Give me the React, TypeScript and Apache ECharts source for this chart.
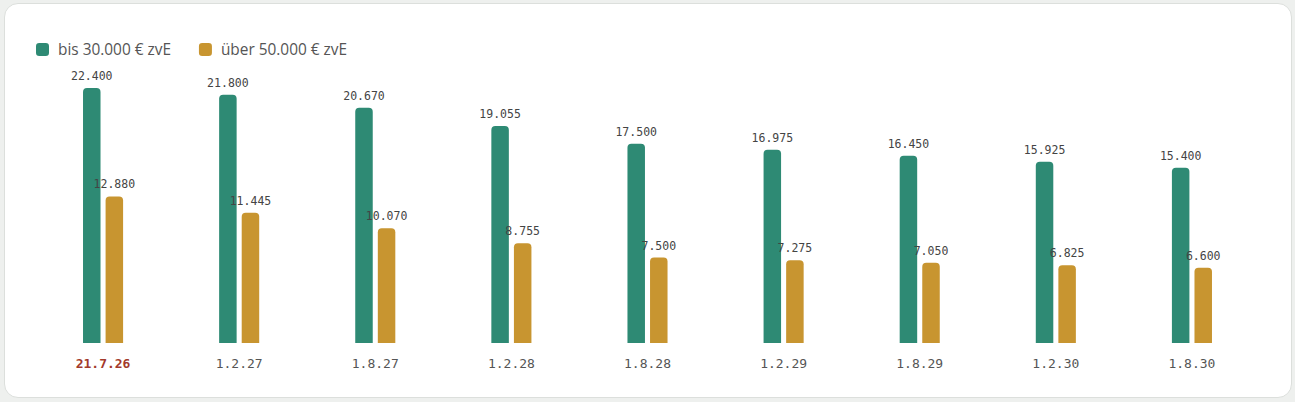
import React, { useEffect, useRef } from "react";
import * as echarts from "echarts";

const categories = ["21.7.26", "1.2.27", "1.8.27", "1.2.28", "1.8.28", "1.2.29", "1.8.29", "1.2.30", "1.8.30"];
const seriesNames = ["bis 30.000 € zvE", "über 50.000 € zvE"];
const lowIncome = [22400, 21800, 20670, 19055, 17500, 16975, 16450, 15925, 15400];
const highIncome = [12880, 11445, 10070, 8755, 7500, 7275, 7050, 6825, 6600];

function fmt(v: number): string {
  const s = String(Math.round(v));
  return s.replace(/\B(?=(\d{3})+(?!\d))/g, ".");
}

export default function App() {
  const ref = useRef<HTMLDivElement>(null);
  useEffect(() => {
    document.body.style.margin = "0";
    const chart = echarts.init(ref.current!, null, { renderer: "svg" });
    const labelStyle = {
      show: true,
      position: "top" as const,
      distance: 6,
      formatter: (p: any) => fmt(p.value),
      fontFamily: "DejaVu Sans Mono",
      fontSize: 11.5,
      color: "#444",
    };
    chart.setOption({
      animation: false,
      legend: {
        left: 36,
        top: 42,
        padding: 0,
        itemWidth: 13,
        itemHeight: 13,
        itemGap: 28,
        icon: "roundRect",
        textStyle: {
          fontFamily: "Open Sans",
          fontSize: 15.4,
          color: "#555",
          padding: [0, 0, 0, 4],
        },
        data: seriesNames,
      },
      grid: { left: 35, right: 35, top: 88, bottom: 59 },
      xAxis: {
        type: "category",
        data: categories.map((c, i) =>
          i === 0
            ? { value: c, textStyle: { color: "#a33a2b", fontWeight: "bold" } }
            : c
        ),
        axisLine: { show: false },
        axisTick: { show: false },
        axisLabel: {
          margin: 14,
          fontFamily: "DejaVu Sans Mono",
          fontSize: 13,
          color: "#555",
        },
      },
      yAxis: {
        type: "value",
        min: 0,
        max: 22400,
        show: false,
        splitLine: { show: false },
      },
      series: [
        {
          name: seriesNames[0],
          type: "bar",
          data: lowIncome,
          barWidth: 17.5,
          barGap: "29%",
          itemStyle: { color: "#2e8a74", borderRadius: [4, 4, 0, 0] },
          label: labelStyle,
        },
        {
          name: seriesNames[1],
          type: "bar",
          data: highIncome,
          barWidth: 17.5,
          itemStyle: { color: "#c89530", borderRadius: [4, 4, 0, 0] },
          label: labelStyle,
        },
      ],
    });
    return () => chart.dispose();
  }, []);
  return (
    <div style={{ position: "relative", width: 1295, height: 402, background: "#eef0ee", overflow: "hidden" }}>
      <div
        style={{
          position: "absolute",
          left: 4,
          top: 3,
          width: 1288,
          height: 395,
          boxSizing: "border-box",
          border: "1px solid #dcdfdc",
          borderRadius: 14,
          background: "#fff",
        }}
      />
      <div ref={ref} style={{ position: "absolute", left: 0, top: 0, width: 1295, height: 402 }} />
    </div>
  );
}
